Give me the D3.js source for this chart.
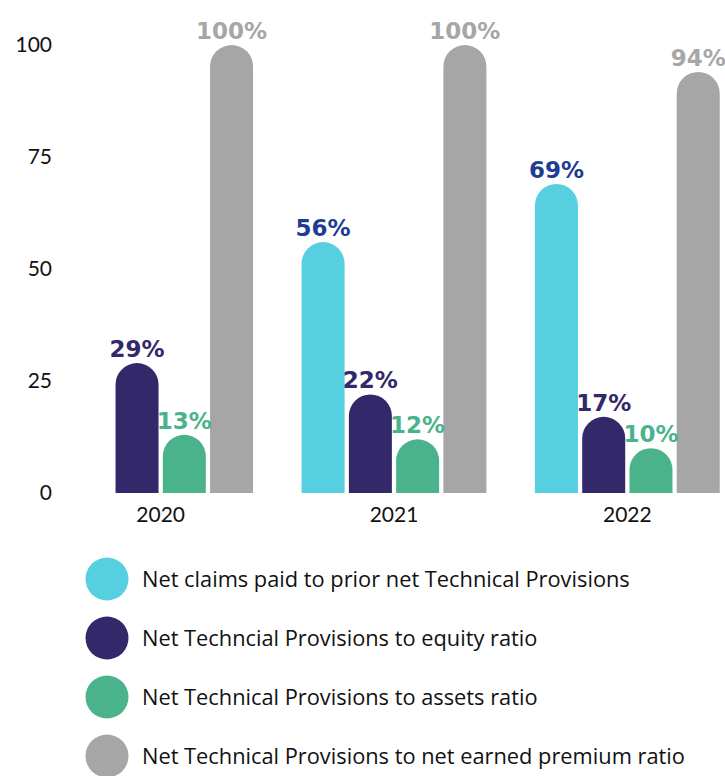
<!DOCTYPE html>
<html>
<head>
<meta charset="utf-8">
<script src="https://cdn.jsdelivr.net/npm/d3@7"></script>
<style>
  body { margin: 0; background: #fff; }
  svg text { font-family: "Lato", "DejaVu Sans", sans-serif; }
</style>
</head>
<body>
<div id="chart"></div>
<script>
/*
------------------------------
DATA
------------------------------
*/
const years = ["2020", "2021", "2022"];
const series = [
  "Net claims paid to prior net Technical Provisions",
  "Net Techncial Provisions to equity ratio",
  "Net Technical Provisions to assets ratio",
  "Net Technical Provisions to net earned premium ratio",
];
const claimsPaid = [null, 56, 69];
const equityRatio = [29, 22, 17];
const assetsRatio = [13, 12, 10];
const premiumRatio = [100, 100, 94];
const yTicks = [0, 25, 50, 75, 100];

const barColors = ["#56cfe0", "#32286a", "#4ab38b", "#a7a6a7"];
const labelColors = ["#1f3c93", "#32286a", "#4ab38b", "#a7a6a7"];

/*
------------------------------
SIZE
------------------------------
*/
const width = 725;
const height = 776;

const svg = d3
  .select("#chart")
  .append("svg")
  .attr("width", width)
  .attr("height", height);

const values = [claimsPaid, equityRatio, assetsRatio, premiumRatio];

// scales
const y = d3.scaleLinear().domain([0, 100]).range([493, 45]);
const x0 = d3
  .scaleBand()
  .domain(years)
  .range([44, 744])
  .paddingInner(0.208)
  .paddingOuter(0.104);
const x1 = d3
  .scaleBand()
  .domain(d3.range(series.length))
  .range([0, x0.bandwidth()])
  .paddingInner(0.09);

// y tick labels (no axis line)
svg
  .append("g")
  .selectAll("text")
  .data(yTicks)
  .enter()
  .append("text")
  .attr("x", 52)
  .attr("y", (d) => y(d))
  .attr("dy", "0.35em")
  .attr("text-anchor", "end")
  .style("font-size", "21px")
  .style("fill", "#111")
  .text((d) => d);

// year labels
svg
  .append("g")
  .selectAll("text")
  .data(years)
  .enter()
  .append("text")
  .attr("x", (d) => x0(d) + x0.bandwidth() / 2)
  .attr("y", 522)
  .attr("text-anchor", "middle")
  .style("font-size", "21px")
  .style("fill", "#111")
  .text((d) => d);

// flatten into bar records
const bars = [];
years.forEach(function (yr, i) {
  values.forEach(function (arr, s) {
    if (arr[i] != null) bars.push({ year: yr, s: s, v: arr[i] });
  });
});

// rounded-top bar shape
function barPath(d) {
  const w = x1.bandwidth();
  const r = w / 2;
  const left = x0(d.year) + x1(d.s);
  const top = y(d.v);
  const base = y(0);
  return (
    "M" + left + "," + base +
    "L" + left + "," + (top + r) +
    "A" + r + "," + r + " 0 0 1 " + (left + w) + "," + (top + r) +
    "L" + (left + w) + "," + base + "Z"
  );
}

svg
  .append("g")
  .selectAll("path")
  .data(bars)
  .enter()
  .append("path")
  .attr("d", barPath)
  .style("fill", (d) => barColors[d.s]);

// value labels
svg
  .append("g")
  .selectAll("text")
  .data(bars)
  .enter()
  .append("text")
  .attr("x", (d) => x0(d.year) + x1(d.s) + x1.bandwidth() / 2)
  .attr("y", (d) => y(d.v) - 6)
  .attr("text-anchor", "middle")
  .style("font-family", "'DejaVu Sans', sans-serif")
  .style("font-weight", "bold")
  .style("font-size", "23px")
  .style("fill", (d) => labelColors[d.s])
  .text((d) => d.v + "%");

// legend
const legend = svg
  .append("g")
  .selectAll("g")
  .data(series)
  .enter()
  .append("g")
  .attr("transform", (d, i) => "translate(107," + (579 + i * 59) + ")");

legend
  .append("circle")
  .attr("r", 21.5)
  .style("fill", (d, i) => barColors[i]);

legend
  .append("text")
  .attr("x", 35)
  .attr("dy", "0.35em")
  .style("font-family", "'Open Sans', sans-serif")
  .style("font-size", "21.8px")
  .style("fill", "#111")
  .text((d) => d);
</script>
</body>
</html>
